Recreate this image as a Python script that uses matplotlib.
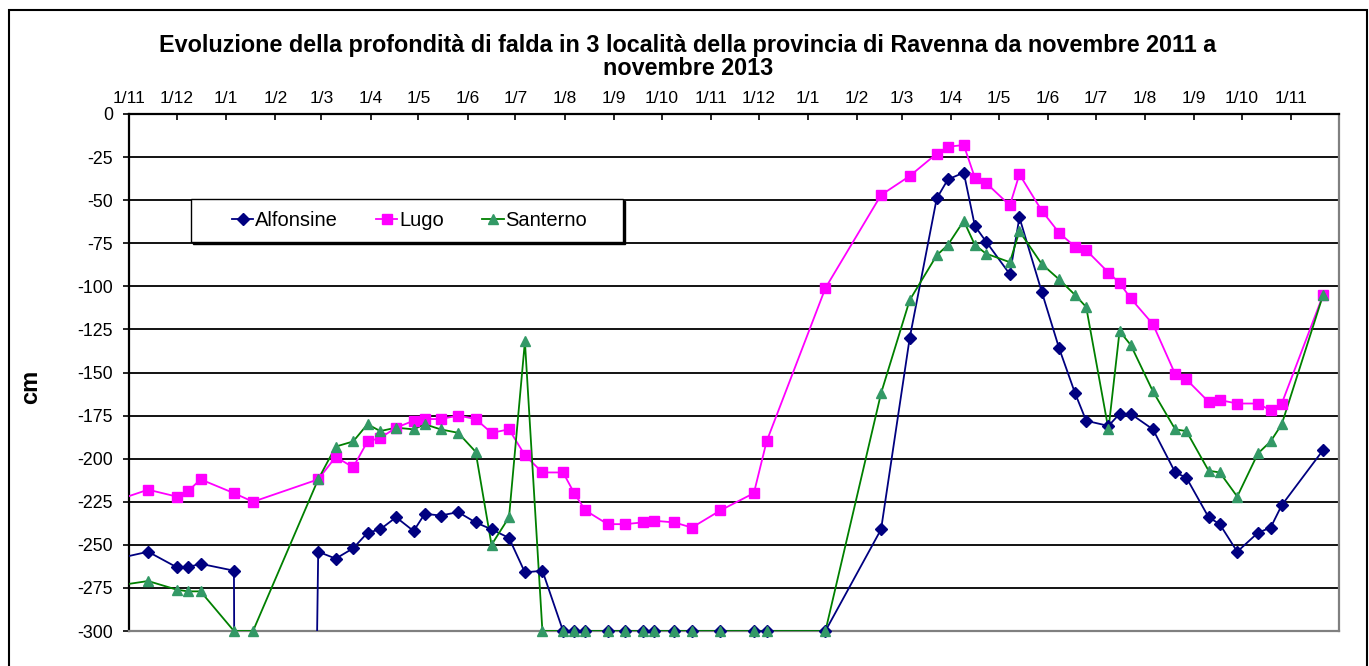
"""Groundwater depth in 3 Ravenna sites, Nov 2011 - Nov 2013."""

import matplotlib

matplotlib.use("Agg")
import matplotlib.pyplot as plt
import numpy as np
import pandas as pd
from matplotlib.lines import Line2D
from matplotlib.patches import Rectangle

plt.rcParams["font.family"] = ["Liberation Sans", "DejaVu Sans"]
plt.rcParams["axes.unicode_minus"] = False

# survey dates (first one falls before the axis start, as in the original sheet)
dates = [
    "2011-10-15", "2011-11-13", "2011-12-01", "2011-12-08", "2011-12-16",
    "2012-01-06", "2012-01-18", "2012-02-28", "2012-03-10", "2012-03-21",
    "2012-03-30", "2012-04-07", "2012-04-17", "2012-04-28", "2012-05-05",
    "2012-05-15", "2012-05-26", "2012-06-06", "2012-06-16", "2012-06-27",
    "2012-07-07", "2012-07-18", "2012-07-31", "2012-08-07", "2012-08-14",
    "2012-08-28", "2012-09-08", "2012-09-19", "2012-09-26", "2012-10-09",
    "2012-10-20", "2012-11-07", "2012-11-28", "2012-12-06", "2013-01-12",
    "2013-02-16", "2013-03-06", "2013-03-23", "2013-03-30", "2013-04-09",
    "2013-04-16", "2013-04-23", "2013-05-08", "2013-05-14", "2013-05-28",
    "2013-06-08", "2013-06-18", "2013-06-25", "2013-07-09", "2013-07-16",
    "2013-07-23", "2013-08-06", "2013-08-20", "2013-08-27", "2013-09-10",
    "2013-09-17", "2013-09-28", "2013-10-11", "2013-10-19", "2013-10-26",
    "2013-11-21",
]

# cm; -3000 = dry well, off the chart
alfonsine = [
    -260, -254, -263, -263, -261, -265, -3000, -254, -258, -252,
    -243, -241, -234, -242, -232, -233, -231, -237, -241, -246,
    -266, -265, -300, -300, -300, -300, -300, -300, -300, -300,
    -300, -300, -300, -300, -300, -241, -130, -49, -38, -34,
    -65, -74, -93, -60, -103, -136, -162, -178, -181, -174,
    -174, -183, -208, -211, -234, -238, -254, -243, -240, -227,
    -195,
]
lugo = [
    -227, -218, -222, -219, -212, -220, -225, -212, -199, -205,
    -190, -188, -182, -178, -177, -177, -175, -177, -185, -183,
    -198, -208, -208, -220, -230, -238, -238, -237, -236, -237,
    -240, -230, -220, -190, -101, -47, -36, -23, -19, -18,
    -37, -40, -53, -35, -56, -69, -77, -79, -92, -98,
    -107, -122, -151, -154, -167, -166, -168, -168, -172, -168,
    -105,
]
santerno = [
    -275, -271, -276, -277, -277, -300, -300, -212, -193, -190,
    -180, -184, -182, -183, -180, -183, -185, -196, -250, -234,
    -132, -300, -300, -300, -300, -300, -300, -300, -300, -300,
    -300, -300, -300, -300, -300, -162, -108, -82, -76, -62,
    -76, -81, -86, -68, -87, -96, -105, -112, -183, -126,
    -134, -161, -183, -184, -207, -208, -222, -197, -190, -180,
    -105,
]

month_ticks = [
    "2011-11-01", "2011-12-01", "2012-01-01", "2012-02-01", "2012-03-01",
    "2012-04-01", "2012-05-01", "2012-06-01", "2012-07-01", "2012-08-01",
    "2012-09-01", "2012-10-01", "2012-11-01", "2012-12-01", "2013-01-01",
    "2013-02-01", "2013-03-01", "2013-04-01", "2013-05-01", "2013-06-01",
    "2013-07-01", "2013-08-01", "2013-09-01", "2013-10-01", "2013-11-01",
]
month_labels = [
    "1/11", "1/12", "1/1", "1/2", "1/3", "1/4", "1/5", "1/6", "1/7", "1/8",
    "1/9", "1/10", "1/11", "1/12", "1/1", "1/2", "1/3", "1/4", "1/5", "1/6",
    "1/7", "1/8", "1/9", "1/10", "1/11",
]
y_ticks = [0, -25, -50, -75, -100, -125, -150, -175, -200, -225, -250, -275, -300]

W, H = 1369, 666
x_start, x_end = pd.Timestamp("2011-11-01"), pd.Timestamp("2013-12-01")

fig = plt.figure(figsize=(W / 100, H / 100), dpi=100)
ax = fig.add_axes([129 / W, 1 - 631 / H, (1339 - 129) / W, (631 - 114) / H])

x = pd.to_datetime(dates)
series = [
    ("Alfonsine", alfonsine, "#000080", "D", 5.8, "#000080"),
    ("Lugo", lugo, "#ff00ff", "s", 7.0, "#ff00ff"),
    ("Santerno", santerno, "#008000", "^", 7.5, "#339966"),
]

handles = []
for name, vals, line_color, marker, msize, mcolor in series:
    v = np.asarray(vals, dtype=float)
    ax.plot(x, v, color=line_color, lw=1.3, zorder=3)
    # markers drawn unclipped so the ones sitting on -300 show whole
    shown = (x >= x_start) & (v >= -300)
    ax.plot(x[shown], v[shown], ls="none", marker=marker, ms=msize,
            color=mcolor, mec=mcolor, clip_on=False, zorder=4)
    handles.append(Line2D([], [], color=line_color, lw=1.3, marker=marker,
                          ms=msize, mfc=mcolor, mec=mcolor))

ax.set_xlim(x_start, x_end)
ax.set_ylim(-300, 0)
ax.set_yticks(y_ticks)
ax.set_yticklabels([str(t) for t in y_ticks])
ax.xaxis.tick_top()
ax.set_xticks(pd.to_datetime(month_ticks))
ax.set_xticklabels(month_labels)
ax.tick_params(axis="x", direction="in", length=4.5, width=1.2, pad=6,
               labelsize=12.5, top=True, bottom=False)
ax.tick_params(axis="y", direction="out", length=4.5, width=1.2, pad=7,
               labelsize=12.8)
ax.yaxis.grid(True, color="black", lw=1.3)
ax.set_axisbelow(True)

for side, col in [("top", "black"), ("left", "black"), ("bottom", "#808080"), ("right", "#808080")]:
    ax.spines[side].set_color(col)
    ax.spines[side].set_linewidth(1.6)

fig.text(688 / W, 1 - 57 / H,
         "Evoluzione della profondità di falda in 3 località della provincia di Ravenna da novembre 2011 a\n"
         "novembre 2013",
         ha="center", va="center", fontsize=16.8, fontweight="bold", linespacing=1.0)
fig.text(31 / W, 1 - 387 / H, "cm", rotation=90, ha="center", va="center",
         fontsize=17, fontweight="bold")

# legend box with dark drop shadow
fig.add_artist(Rectangle((193 / W, 1 - 244 / H), 432 / W, 43 / H, transform=fig.transFigure,
                         facecolor="black", edgecolor="black", lw=1, zorder=3))
fig.add_artist(Rectangle((191 / W, 1 - 242 / H), 432 / W, 43 / H, transform=fig.transFigure,
                         facecolor="white", edgecolor="black", lw=1, zorder=4))
fig.legend(handles, [s[0] for s in series], loc="center left",
           bbox_to_anchor=(232 / W, 1 - 220.5 / H), ncol=3, frameon=False,
           borderpad=0, borderaxespad=0, handlelength=1.05, handletextpad=0.1,
           columnspacing=1.9, fontsize=14.5).set_zorder(5)

# outer chart border
fig.add_artist(Rectangle((9 / W, -0.02), (1367 - 9) / W, 1 - 10 / H + 0.02,
                         transform=fig.transFigure, fill=False, edgecolor="black", lw=1.5))

fig.savefig("out.png", dpi=100)
plt.close(fig)
